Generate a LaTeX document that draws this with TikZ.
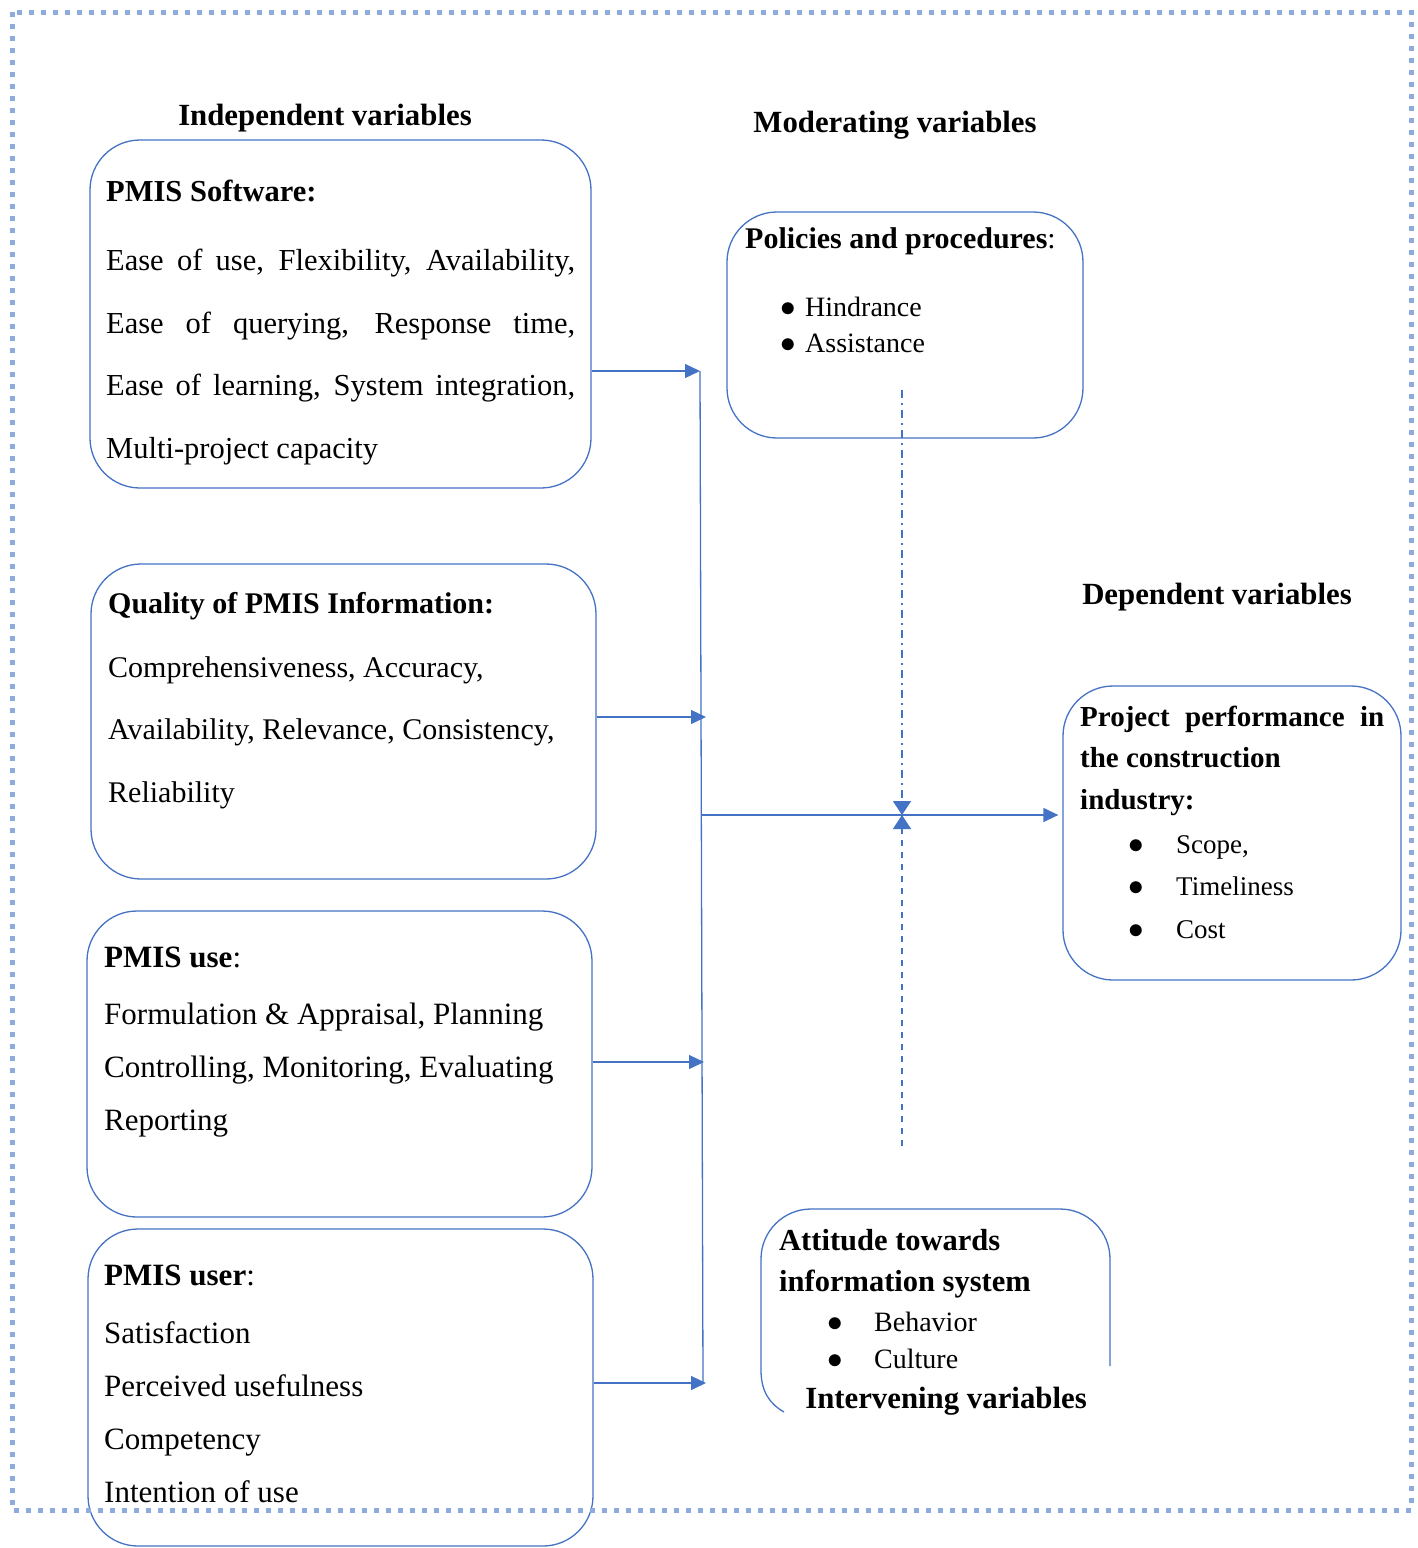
\documentclass[tikz,border=0pt]{standalone}
\usepackage{fontspec}
\setmainfont{Liberation Serif}
\usetikzlibrary{arrows.meta}
\definecolor{lineblue}{HTML}{4472C4}
\definecolor{dotblue}{HTML}{8FAADC}
\tikzset{
 varbox/.style={draw=lineblue,line width=1.3pt,rounded corners=50pt,inner sep=0pt},
 boxtext/.style={anchor=base west,align=left,inner sep=0pt},
 heading/.style={anchor=base,inner sep=0pt,font=\fontsize{30.8}{36}\selectfont\bfseries},
 flow/.style={draw=lineblue,line width=1.3pt,-{Triangle[length=15pt,width=14pt]}},
 midtip/.style={-{Triangle[length=14pt,width=18pt]}},
}
\newcommand{\bitem}[2]{\makebox[#1][l]{\scalebox{1.25}{$\bullet$}}#2}
\begin{document}
\begin{tikzpicture}[x=1pt,y=-1pt]
 \useasboundingbox (0,0) rectangle (1418,1548);
 % headings
 \node[heading] (indep) at (325,125) {Independent variables};
 \node[heading] (moder) at (895,132) {Moderating variables};
 \node[heading] (depen) at (1217,604) {Dependent variables};
 \node[heading] (inter) at (946,1408) {Intervening variables};
 % boxes
 \node[varbox,minimum width=501pt,minimum height=348pt] (soft) at (340.5,314) {};
 \node[varbox,minimum width=505pt,minimum height=315pt] (qual) at (343.5,721.5) {};
 \node[varbox,minimum width=505pt,minimum height=306pt] (use) at (339.5,1064) {};
 \node[varbox,minimum width=505pt,minimum height=317pt] (user) at (340.5,1387.5) {};
 \node[varbox,minimum width=356pt,minimum height=226pt] (pol) at (905,325) {};
 \node[varbox,minimum width=338pt,minimum height=294pt] (perf) at (1232,833) {};
 \draw[lineblue,line width=1.3pt,rounded corners=50pt] (761,1370) -- (761,1209) -- (1110,1209) -- (1110,1366);
 \draw[lineblue,line width=1.3pt] (761,1370) .. controls (761,1392) and (770,1404) .. (784,1412);
 % box texts (anchored at the baseline of the last line)
 \node[boxtext,font=\fontsize{30.5}{62.5}\selectfont] (softtxt) at (106,458) {\textbf{PMIS Software:}\\[6.5pt]
  \makebox[469pt][s]{Ease of use, Flexibility, Availability,}\\
  \makebox[469pt][s]{Ease of querying, Response time,}\\
  \makebox[469pt][s]{Ease of learning, System integration,}\\
  Multi-project capacity};
 \node[boxtext,font=\fontsize{30}{62.5}\selectfont] (qualtxt) at (108,802) {\textbf{Quality of PMIS Information:}\\[1.5pt]
  Comprehensiveness, Accuracy,\\
  Availability, Relevance, Consistency,\\
  Reliability};
 \node[boxtext,font=\fontsize{31}{53}\selectfont] (usetxt) at (104,1130) {\textbf{PMIS use}:\\[4pt]
  Formulation \& Appraisal, Planning\\
  Controlling, Monitoring, Evaluating\\
  Reporting};
 \node[boxtext,font=\fontsize{31}{53}\selectfont] (usertxt) at (104,1502) {\textbf{PMIS user}:\\[5pt]
  Satisfaction\\
  Perceived usefulness\\
  Competency\\
  Intention of use};
 \node[boxtext,font=\fontsize{30}{36}\selectfont] (poltitle) at (745,248) {\textbf{Policies and procedures}:};
 \node[boxtext,font=\fontsize{28}{36}\selectfont] (pollist) at (780,352) {\bitem{25pt}{Hindrance}\\\bitem{25pt}{Assistance}};
 \node[boxtext,font=\fontsize{29}{41.5}\selectfont\bfseries] (perftitle) at (1080,809) {\makebox[304pt][s]{Project performance in}\\the construction\\industry:};
 \node[boxtext,font=\fontsize{27}{42.5}\selectfont] (perflist) at (1128,938) {\bitem{48pt}{Scope,}\\\bitem{48pt}{Timeliness}\\\bitem{48pt}{Cost}};
 \node[boxtext,font=\fontsize{30.5}{41}\selectfont\bfseries] (atttitle) at (779,1291) {Attitude towards\\information system};
 \node[boxtext,font=\fontsize{28}{37}\selectfont] (attlist) at (827,1368) {\bitem{47pt}{Behavior}\\\bitem{47pt}{Culture}};
 % connectors
 \coordinate (t1) at (700,371);
 \coordinate (t2) at (706,717);
 \coordinate (t3) at (704,1062);
 \coordinate (t4) at (706,1383);
 \coordinate (tb) at (703,1383);
 \coordinate (hub) at (702,815);
 \draw[lineblue,line width=1.3pt] (t1) -- (tb);
 \draw[flow] (soft.east |- t1) -- (t1);
 \draw[flow] (qual.east |- t2) -- (t2);
 \draw[flow] (use.east |- t3) -- (t3);
 \draw[flow] (user.east |- t4) -- (t4);
 \draw[flow,shorten >=4pt] (hub) -- (hub -| perf.west);
 \coordinate (mtop) at (902,390);
 \coordinate (mmid) at (902,815);
 \coordinate (mbot) at (902,1146);
 \draw[lineblue,line width=1.3pt,dash pattern=on 8pt off 5pt on 2pt off 5pt,midtip] (mtop) -- (mmid);
 \draw[lineblue,line width=1.3pt,dash pattern=on 6pt off 6pt,midtip] (mbot) -- (mmid);
 % outer border
 \draw[dotblue,line width=5pt,dash pattern=on 5pt off 7pt] (12,12) rectangle (1411,1510);
\end{tikzpicture}
\end{document}
